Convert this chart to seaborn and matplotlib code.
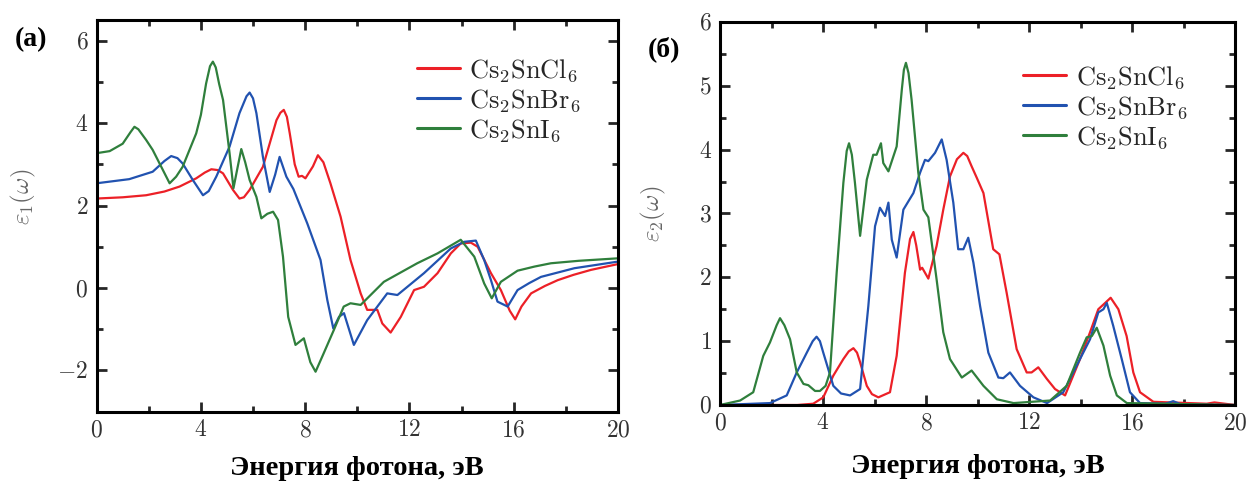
import numpy as np
import pandas as pd
import matplotlib
matplotlib.use("Agg")
import matplotlib.pyplot as plt
from matplotlib.ticker import MultipleLocator, FuncFormatter
from matplotlib.lines import Line2D
import seaborn as sns

# ---- real part eps1(E) ----
cl_e1_x = [0.0, 1.0, 1.9, 2.6, 3.18, 3.82, 4.15, 4.4, 4.65, 4.85, 5.23, 5.48, 5.65, 5.87, 6.38, 6.9, 7.05, 7.18,
           7.3, 7.41, 7.6, 7.75, 7.88, 8.01, 8.3, 8.49, 8.7, 8.97, 9.36, 9.74, 10.13, 10.38, 10.77, 10.96, 11.28,
           11.67, 12.18, 12.56, 13.08, 13.59, 13.97, 14.36, 14.62, 15.13, 15.51, 15.85, 16.06, 16.3, 16.67,
           17.2, 17.69, 18.3, 18.97, 20.0]
cl_e1_y = [2.17, 2.2, 2.25, 2.34, 2.46, 2.66, 2.8, 2.88, 2.86, 2.78, 2.38, 2.17, 2.2, 2.38, 2.94, 4.07, 4.25, 4.32,
           4.15, 3.75, 3.0, 2.70, 2.72, 2.66, 2.95, 3.22, 3.05, 2.54, 1.73, 0.68, -0.13, -0.53, -0.53, -0.86, -1.08,
           -0.70, -0.05, 0.03, 0.36, 0.84, 1.08, 1.10, 1.0, 0.36, -0.05, -0.55, -0.76, -0.45, -0.13,
           0.05, 0.19, 0.32, 0.44, 0.58]

br_e1_x = [0.0, 1.25, 2.15, 2.6, 2.86, 3.1, 3.3, 3.69, 4.08, 4.3, 4.59, 5.1, 5.48, 5.75, 5.87, 6.0, 6.13, 6.38,
           6.64, 6.85, 7.02, 7.28, 7.55, 8.08, 8.59, 8.85, 9.08, 9.3, 9.49, 9.87, 10.38, 11.15, 11.54, 12.56,
           13.59, 14.1, 14.55, 14.87, 15.13, 15.38, 15.77, 16.15, 16.6, 17.05, 18.33, 20.0]
br_e1_y = [2.54, 2.64, 2.82, 3.08, 3.2, 3.15, 3.02, 2.62, 2.25, 2.35, 2.70, 3.43, 4.24, 4.65, 4.74, 4.6, 4.24, 3.18,
           2.33, 2.75, 3.18, 2.70, 2.40, 1.57, 0.68, -0.29, -0.98, -0.7, -0.61, -1.38, -0.78, -0.13, -0.17, 0.36,
           0.96, 1.12, 1.15, 0.68, 0.19, -0.33, -0.45, -0.05, 0.12, 0.27, 0.48, 0.64]

i_e1_x = [0.0, 0.5, 1.0, 1.3, 1.45, 1.6, 1.9, 2.15, 2.8, 3.05, 3.3, 3.82, 4.0, 4.2, 4.35, 4.46, 4.57, 4.7, 4.85,
          5.1, 5.25, 5.4, 5.55, 5.7, 5.87, 6.13, 6.32, 6.55, 6.77, 6.96, 7.15, 7.35, 7.63, 7.95, 8.2, 8.4, 8.7,
          9.1, 9.48, 9.74, 10.13, 11.02, 12.3, 13.08, 13.97, 14.49, 14.87, 15.16, 15.51, 16.15, 16.8, 17.43,
          18.5, 20.0]
i_e1_y = [3.27, 3.32, 3.5, 3.78, 3.91, 3.85, 3.59, 3.35, 2.54, 2.7, 2.94, 3.75, 4.2, 4.96, 5.38, 5.49, 5.35, 4.95,
          4.56, 3.27, 2.42, 2.9, 3.37, 3.05, 2.62, 2.21, 1.69, 1.8, 1.85, 1.65, 0.76, -0.70, -1.38, -1.22, -1.8,
          -2.03, -1.6, -1.02, -0.45, -0.37, -0.41, 0.15, 0.60, 0.84, 1.17, 0.76, 0.11, -0.25, 0.15, 0.42, 0.52,
          0.60, 0.66, 0.72]

# ---- imaginary part eps2(E) ----
cl_e2_x = [0.0, 3.0, 3.62, 4.01, 4.4, 4.79, 5.0, 5.18, 5.32, 5.44, 5.7, 5.9, 6.15, 6.6, 6.86, 7.18, 7.38, 7.51,
           7.62, 7.77, 7.85, 8.09, 8.41, 8.67, 8.93, 9.2, 9.45, 9.6, 9.77, 9.97, 10.23, 10.61, 10.85, 11.13, 11.52,
           11.91, 12.1, 12.36, 12.69, 13.01, 13.4, 13.98, 14.37, 14.69, 14.96, 15.17, 15.47, 15.79, 16.05, 16.31,
           16.83, 18.9, 19.2, 20.0]
cl_e2_y = [0.0, 0.0, 0.02, 0.12, 0.46, 0.72, 0.84, 0.89, 0.82, 0.67, 0.30, 0.17, 0.12, 0.20, 0.77, 2.07, 2.6, 2.71,
           2.5, 2.12, 2.15, 1.98, 2.49, 3.06, 3.58, 3.85, 3.95, 3.9, 3.74, 3.56, 3.32, 2.44, 2.36, 1.76, 0.875,
           0.51, 0.51, 0.59, 0.41, 0.25, 0.15, 0.72, 1.14, 1.5, 1.6, 1.68, 1.5, 1.08, 0.51, 0.2,
           0.05, 0.02, 0.04, 0.0]

br_e2_x = [0.0, 1.94, 2.59, 2.98, 3.37, 3.6, 3.75, 3.88, 4.01, 4.4, 4.7, 5.05, 5.44, 5.76, 6.02, 6.21, 6.41, 6.54,
           6.67, 6.86, 7.12, 7.51, 7.77, 7.96, 8.09, 8.35, 8.61, 8.8, 9.06, 9.25, 9.45, 9.64, 9.84, 10.1, 10.42,
           10.81, 11.0, 11.26, 11.65, 12.17, 12.7, 13.33, 13.98, 14.37, 14.69, 14.89, 15.02, 15.27, 15.6, 15.92,
           16.31, 17.3, 17.6, 17.9, 20.0]
br_e2_y = [0.0, 0.03, 0.15, 0.51, 0.82, 1.0, 1.07, 1.0, 0.82, 0.30, 0.18, 0.15, 0.25, 1.55, 2.80, 3.09, 2.96, 3.17,
           2.59, 2.31, 3.06, 3.32, 3.64, 3.84, 3.82, 3.95, 4.16, 3.84, 3.17, 2.44, 2.44, 2.62, 2.23, 1.55, 0.82,
           0.43, 0.42, 0.51, 0.30, 0.12, 0.03, 0.20, 0.72, 1.03, 1.45, 1.5, 1.60, 1.24, 0.72, 0.20,
           0.03, 0.02, 0.06, 0.01, 0.0]

i_e2_x = [0.0, 0.78, 1.29, 1.68, 1.94, 2.2, 2.33, 2.5, 2.72, 2.98, 3.24, 3.43, 3.69, 3.88, 4.1, 4.27, 4.53, 4.79,
          4.92, 5.01, 5.12, 5.24, 5.44, 5.70, 5.95, 6.08, 6.25, 6.34, 6.54, 6.86, 7.06, 7.14, 7.22, 7.32, 7.44,
          7.70, 7.9, 8.09, 8.41, 8.67, 8.93, 9.39, 9.77, 10.23, 10.75, 11.4, 12.82, 13.46, 13.98, 14.24, 14.44,
          14.63, 14.89, 15.15, 15.41, 15.8, 20.0]
i_e2_y = [0.0, 0.07, 0.20, 0.77, 0.98, 1.25, 1.36, 1.25, 1.03, 0.51, 0.33, 0.31, 0.22, 0.22, 0.3, 0.51, 2.07, 3.48,
          3.98, 4.1, 3.92, 3.48, 2.65, 3.53, 3.92, 3.92, 4.1, 3.79, 3.66, 4.05, 4.94, 5.25, 5.36, 5.2, 4.78,
          3.64, 3.06, 2.94, 1.97, 1.14, 0.72, 0.43, 0.54, 0.30, 0.09, 0.03, 0.07, 0.30, 0.82, 1.06, 1.08,
          1.21, 0.93, 0.46, 0.15, 0.03, 0.0]

compounds = [r"$\mathrm{Cs_2SnCl_6}$", r"$\mathrm{Cs_2SnBr_6}$", r"$\mathrm{Cs_2SnI_6}$"]
colors = ["#ec2027", "#2152b0", "#2f7f3c"]
xlabel = "Энергия фотона, эВ"


def long_frame(series):
    rows = []
    for name, (xs, ys) in zip(compounds, series):
        rows.append(pd.DataFrame({"E": xs, "eps": ys, "compound": name}))
    return pd.concat(rows, ignore_index=True)


df1 = long_frame([(cl_e1_x, cl_e1_y), (br_e1_x, br_e1_y), (i_e1_x, i_e1_y)])
df2 = long_frame([(cl_e2_x, cl_e2_y), (br_e2_x, br_e2_y), (i_e2_x, i_e2_y)])

sns.set_style("ticks")
plt.rcParams["mathtext.fontset"] = "cm"
plt.rcParams["font.family"] = ["Liberation Serif", "DejaVu Serif"]

fig = plt.figure(figsize=(12.47, 4.83), dpi=100)
ax1 = fig.add_axes([0.0775, 0.1476, 0.418, 0.811])
ax2 = fig.add_axes([0.5774, 0.1615, 0.413, 0.793])

palette = dict(zip(compounds, colors))
tickfmt = FuncFormatter(lambda v, p: f"${v:g}$")

panels = [
    (ax1, df1, (-3, 6.5), 2, 1, r"$\varepsilon_1(\omega)$", "(a)", (0.614, 0.905), (-0.126, 0.95),
     (-0.112, 0.55), -0.112),
    (ax2, df2, (0, 6), 1, 0.5, r"$\varepsilon_2(\omega)$", "(б)", (0.588, 0.89), (-0.109, 0.93),
     (-0.101, 0.50), -0.128),
]

for ax, df, ylim, ymaj, ymin, ylab, tag, leg_xy, tagpos, ylabpos, xlab_y in panels:
    sns.lineplot(data=df, x="E", y="eps", hue="compound", palette=palette, sort=False,
                 estimator=None, linewidth=1.6, ax=ax, legend=False)
    ax.set_xlim(0, 20)
    ax.set_ylim(*ylim)
    ax.xaxis.set_major_locator(MultipleLocator(4))
    ax.xaxis.set_minor_locator(MultipleLocator(2))
    ax.yaxis.set_major_locator(MultipleLocator(ymaj))
    ax.yaxis.set_minor_locator(MultipleLocator(ymin))
    ax.xaxis.set_major_formatter(tickfmt)
    ax.yaxis.set_major_formatter(tickfmt)
    ax.tick_params(which="both", direction="in", top=True, right=True, width=2.0, labelsize=17,
                   labelcolor="#333333", pad=6)
    ax.tick_params(which="major", length=7)
    ax.tick_params(which="minor", length=4.5)
    for s in ax.spines.values():
        s.set_linewidth(2.2)
        s.set_color("black")
    ax.set_xlabel(xlabel, fontsize=20.5, fontweight="bold", color="black")
    ax.xaxis.set_label_coords(0.5, xlab_y)
    ax.set_ylabel(ylab, fontsize=18, color="#666666")
    ax.yaxis.set_label_coords(*ylabpos)
    ax.text(*tagpos, tag, transform=ax.transAxes, fontsize=20, fontweight="bold", color="black",
            ha="center", va="center")
    handles = [Line2D([], [], color=c, lw=2.2) for c in colors]
    ax.legend(handles, compounds, loc="upper left", bbox_to_anchor=leg_xy, frameon=False, fontsize=19,
              handlelength=1.65, handletextpad=0.35, labelspacing=0.12, borderpad=0, borderaxespad=0)

fig.savefig("out.png", dpi=100)
